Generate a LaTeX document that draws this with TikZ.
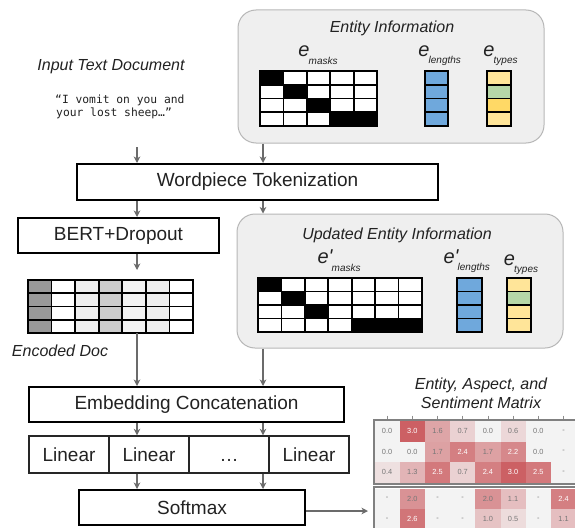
\documentclass[tikz,border=0pt]{standalone}
\usepackage{fontspec}
\setmainfont{Liberation Sans}
\newfontfamily\monof{DejaVu Sans Mono}
\usetikzlibrary{arrows.meta}
\definecolor{boxgray}{HTML}{EFEFEF}
\definecolor{boxedge}{HTML}{B7B7B7}
\definecolor{eblue}{HTML}{6FA8DC}
\definecolor{eyel}{HTML}{FFE599}
\definecolor{egreen}{HTML}{B6D7A8}
\definecolor{egold}{HTML}{FFD966}
\definecolor{arrgray}{HTML}{6B6B6B}
\definecolor{matred}{RGB}{204,96,100}
\definecolor{matgray}{HTML}{F3F3F3}
\definecolor{mtxt}{HTML}{777777}
\definecolor{txt}{HTML}{222222}
\definecolor{encA}{HTML}{999999}
\definecolor{encB}{HTML}{EFEFEF}
\definecolor{encC}{HTML}{CCCCCC}
\definecolor{encD}{HTML}{F3F3F3}

% grid outline: x0,y0,cw,ch,ncols,nrows
\newcommand\drawgrid[6]{%
  \pgfmathsetmacro\gxe{#1+#3*#5}%
  \pgfmathsetmacro\gye{#2+#4*#6}%
  \foreach \k in {1,...,#5} \draw[gridl] ({#1+#3*\k},#2) -- ({#1+#3*\k},\gye);
  \foreach \k in {1,...,#6} \draw[gridl] (#1,{#2+#4*\k}) -- (\gxe,{#2+#4*\k});
  \draw[gridl] (#1,#2) rectangle (\gxe,\gye);
}
% one filled cell: x0,y0,cw,ch,col,row,colour
\newcommand\gcell[7]{%
  \fill[#7] ({#1+#3*(#5-1)},{#2+#4*(#6-1)}) rectangle ++(#3,#4);
}
% matrix row: name, y top, list of values (-1 = dash)
\newcommand\matrow[3]{%
  \foreach \v [count=\i] in {#3} {%
    \pgfmathsetmacro\xl{374.5+25.2*(\i-1)}%
    \ifdim \v pt<0pt
      \fill[matgray] (\xl,#2) rectangle ++(25.2,20.5);
      \node[mnum,text=mtxt] (m#1-\i) at (\xl+12.6,#2+10.25) {-};
    \else
      \pgfmathtruncatemacro\pc{\v/3*100}%
      \fill[matred!\pc!matgray] (\xl,#2) rectangle ++(25.2,20.5);
      \ifdim \v pt>2.1pt \def\tc{white}\else\def\tc{mtxt}\fi
      \node[mnum,text=\tc] (m#1-\i) at (\xl+12.6,#2+10.25) {\v};
    \fi
  }%
}

\tikzset{
  procbox/.style={draw=black, line width=2pt, fill=white, text=txt, inner sep=0pt,
    font=\fontsize{19}{22}\selectfont},
  linbox/.style={draw=black!85, line width=1.4pt, fill=white, text=txt, inner sep=0pt,
    minimum width=80pt, minimum height=37pt, font=\fontsize{19}{22}\selectfont},
  infobox/.style={draw=boxedge, line width=1pt, fill=boxgray, rounded corners=18pt, inner sep=0pt},
  ititle/.style={text=txt, inner sep=0pt, font=\fontsize{16}{19}\selectfont\itshape},
  ebig/.style={text=txt, inner sep=0pt, font=\fontsize{20}{21}\selectfont\itshape},
  esub/.style={text=txt, inner sep=0pt, anchor=west, font=\fontsize{10}{11}\selectfont\itshape},
  gridl/.style={draw=black, line width=1.8pt},
  arr/.style={draw=arrgray, line width=1.3pt, -{Stealth[length=6.5pt,width=6.5pt,inset=2pt]}},
  mnum/.style={inner sep=0pt, font=\fontsize{7.4}{8}\selectfont},
  mframe/.style={draw=black!50, line width=2pt},
  monotxt/.style={text=txt, inner sep=0pt, anchor=base west, font=\monof\fontsize{11.3}{14}\selectfont},
}

\begin{document}
\begin{tikzpicture}[x=1pt,y=-1pt]
\useasboundingbox (0,0) rectangle (575,527);
\fill[white] (0,0) rectangle (575,527);
\clip (0,0) rectangle (575,527);

% ---------- input text ----------
\node[ititle] (intitle) at (111,67) {Input Text Document};
\node[monotxt] (q1) at (55,103) {“I vomit on you and};
\node[monotxt] (q2) at (56,116) {your lost sheep…”};

% ---------- entity information ----------
\node[infobox, minimum width=306pt, minimum height=133pt] (ent) at (391,76.5) {};
\node[ititle] (enttitle) at (392,28) {Entity Information};
\node[ebig] (em) at (304,51) {e};
\node[esub] (ems) at (308.5,61) {masks};
\node[ebig] (el) at (424,51) {e};
\node[esub] (els) at (428.5,61) {lengths};
\node[ebig] (et) at (489,51) {e};
\node[esub] (ets) at (493.5,61) {types};

\foreach \c/\r in {1/1,2/2,3/3,4/4,5/4} {\gcell{260}{71}{23.4}{13.75}{\c}{\r}{black}}
\foreach \c/\r in {2/1,3/1,4/1,5/1,1/2,3/2,4/2,5/2,1/3,2/3,4/3,5/3,1/4,2/4,3/4} {\gcell{260}{71}{23.4}{13.75}{\c}{\r}{white}}
\drawgrid{260}{71}{23.4}{13.75}{5}{4}

\foreach \r in {1,...,4} {\gcell{425}{71}{23}{13.75}{1}{\r}{eblue}}
\drawgrid{425}{71}{23}{13.75}{1}{4}

\gcell{487}{71}{24}{13.75}{1}{1}{eyel}
\gcell{487}{71}{24}{13.75}{1}{2}{egreen}
\gcell{487}{71}{24}{13.75}{1}{3}{egold}
\gcell{487}{71}{24}{13.75}{1}{4}{eyel}
\drawgrid{487}{71}{24}{13.75}{1}{4}

% ---------- wordpiece ----------
\node[procbox, minimum width=361pt, minimum height=36pt] (wp) at (257.5,182) {Wordpiece Tokenization};

% ---------- BERT ----------
\node[procbox, minimum width=201pt, minimum height=35pt] (bert) at (118.5,235.5) {BERT+Dropout};

% ---------- updated entity information ----------
\node[infobox, minimum width=326pt, minimum height=134pt] (upd) at (400,281) {};
\node[ititle] (updtitle) at (397,235) {Updated Entity Information};
\node[ebig] (um) at (325,257) {e\textquotesingle};
\node[esub] (ums) at (331.5,268) {masks};
\node[ebig] (ul) at (451,257) {e\textquotesingle};
\node[esub] (uls) at (457.5,268) {lengths};
\node[ebig] (ut) at (509.5,260) {e};
\node[esub] (uts) at (514,270) {types};

\foreach \c/\r in {1/1,2/2,3/3,5/4,6/4,7/4} {\gcell{258}{278}{23.43}{13.5}{\c}{\r}{black}}
\foreach \c/\r in {2/1,3/1,4/1,5/1,6/1,7/1,1/2,3/2,4/2,5/2,6/2,7/2,1/3,2/3,4/3,5/3,6/3,7/3,1/4,2/4,3/4,4/4} {\gcell{258}{278}{23.43}{13.5}{\c}{\r}{white}}
\drawgrid{258}{278}{23.43}{13.5}{7}{4}

\foreach \r in {1,...,4} {\gcell{457}{278}{25}{13.5}{1}{\r}{eblue}}
\drawgrid{457}{278}{25}{13.5}{1}{4}

\gcell{507}{278}{24}{13.5}{1}{1}{eyel}
\gcell{507}{278}{24}{13.5}{1}{2}{egreen}
\gcell{507}{278}{24}{13.5}{1}{3}{eyel}
\gcell{507}{278}{24}{13.5}{1}{4}{eyel}
\drawgrid{507}{278}{24}{13.5}{1}{4}

% ---------- encoded doc ----------
\foreach \c/\col in {1/encA,2/white,3/encB,4/encC,5/encD,6/encB,7/white} {
  \foreach \r in {1,...,4} {\gcell{28}{280}{23.57}{13.25}{\c}{\r}{\col}}
}
\drawgrid{28}{280}{23.57}{13.25}{7}{4}
\node[ititle] (enclab) at (60,351) {Encoded Doc};

% ---------- lower stack ----------
\node[procbox, minimum width=315pt, minimum height=35pt] (emb) at (186.5,404.5) {Embedding Concatenation};
\node[linbox] (lin1) at (69,454.5) {Linear};
\node[linbox] (lin2) at (149,454.5) {Linear};
\node[linbox] (lin3) at (229,454.5) {\vphantom{Linear}…};
\node[linbox] (lin4) at (309,454.5) {Linear};
\node[procbox, minimum width=226pt, minimum height=35pt] (sm) at (192,507.5) {Softmax};

% ---------- connectors ----------
\coordinate (L) at (137,0);
\coordinate (R) at (263,0);
\coordinate (inarr) at (137,147);
\coordinate (bertend) at (137,270);
\coordinate (encbot) at (137,333);
\coordinate (matl) at (368,511);

\draw[arr] (inarr) -- (inarr |- wp.north);
\draw[arr] (ent.south -| R) -- (wp.north -| R);
\draw[arr] (wp.south -| L) -- (bert.north -| L);
\draw[arr] (wp.south -| R) -- (upd.north -| R);
\draw[arr] (bert.south -| L) -- (bertend);
\draw[arr] (encbot) -- (emb.north -| L);
\draw[arr] (upd.south -| R) -- (emb.north -| R);
\draw[arr] (emb.south -| L) -- (lin2.north -| L);
\draw[arr] (emb.south -| R) -- (lin3.north -| R);
\draw[arr] (lin2.south -| L) -- (sm.north -| L);
\draw[arr] (lin3.south -| R) -- (sm.north -| R);
\draw[arr] (sm.east |- matl) -- (matl);

% ---------- matrix ----------
\node[ititle, align=center, font=\fontsize{16}{19}\selectfont\itshape] (mtitle) at (481,393.5) {Entity, Aspect, and\\Sentiment Matrix};
\matrow{a}{421}{0.0,3.0,1.6,0.7,0.0,0.6,0.0,-1}
\matrow{b}{441.5}{0.0,0.0,1.7,2.4,1.7,2.2,0.0,-1}
\matrow{c}{462}{0.4,1.3,2.5,0.7,2.4,3.0,2.5,-1}
\matrow{d}{488.5}{-1,2.0,-1,-1,2.0,1.1,-1,2.4}
\matrow{e}{509}{-1,2.6,-1,-1,1.0,0.5,-1,1.1}
\draw[mframe] (373.5,419.5) rectangle (590,483.5);
\draw[mframe] (373.5,487) rectangle (590,545);
\foreach \i in {1,...,8} {\draw[black!45, line width=0.8pt] ({374.5+25.2*(\i-0.5)},415.5) -- ++(0,3);}
\end{tikzpicture}
\end{document}
